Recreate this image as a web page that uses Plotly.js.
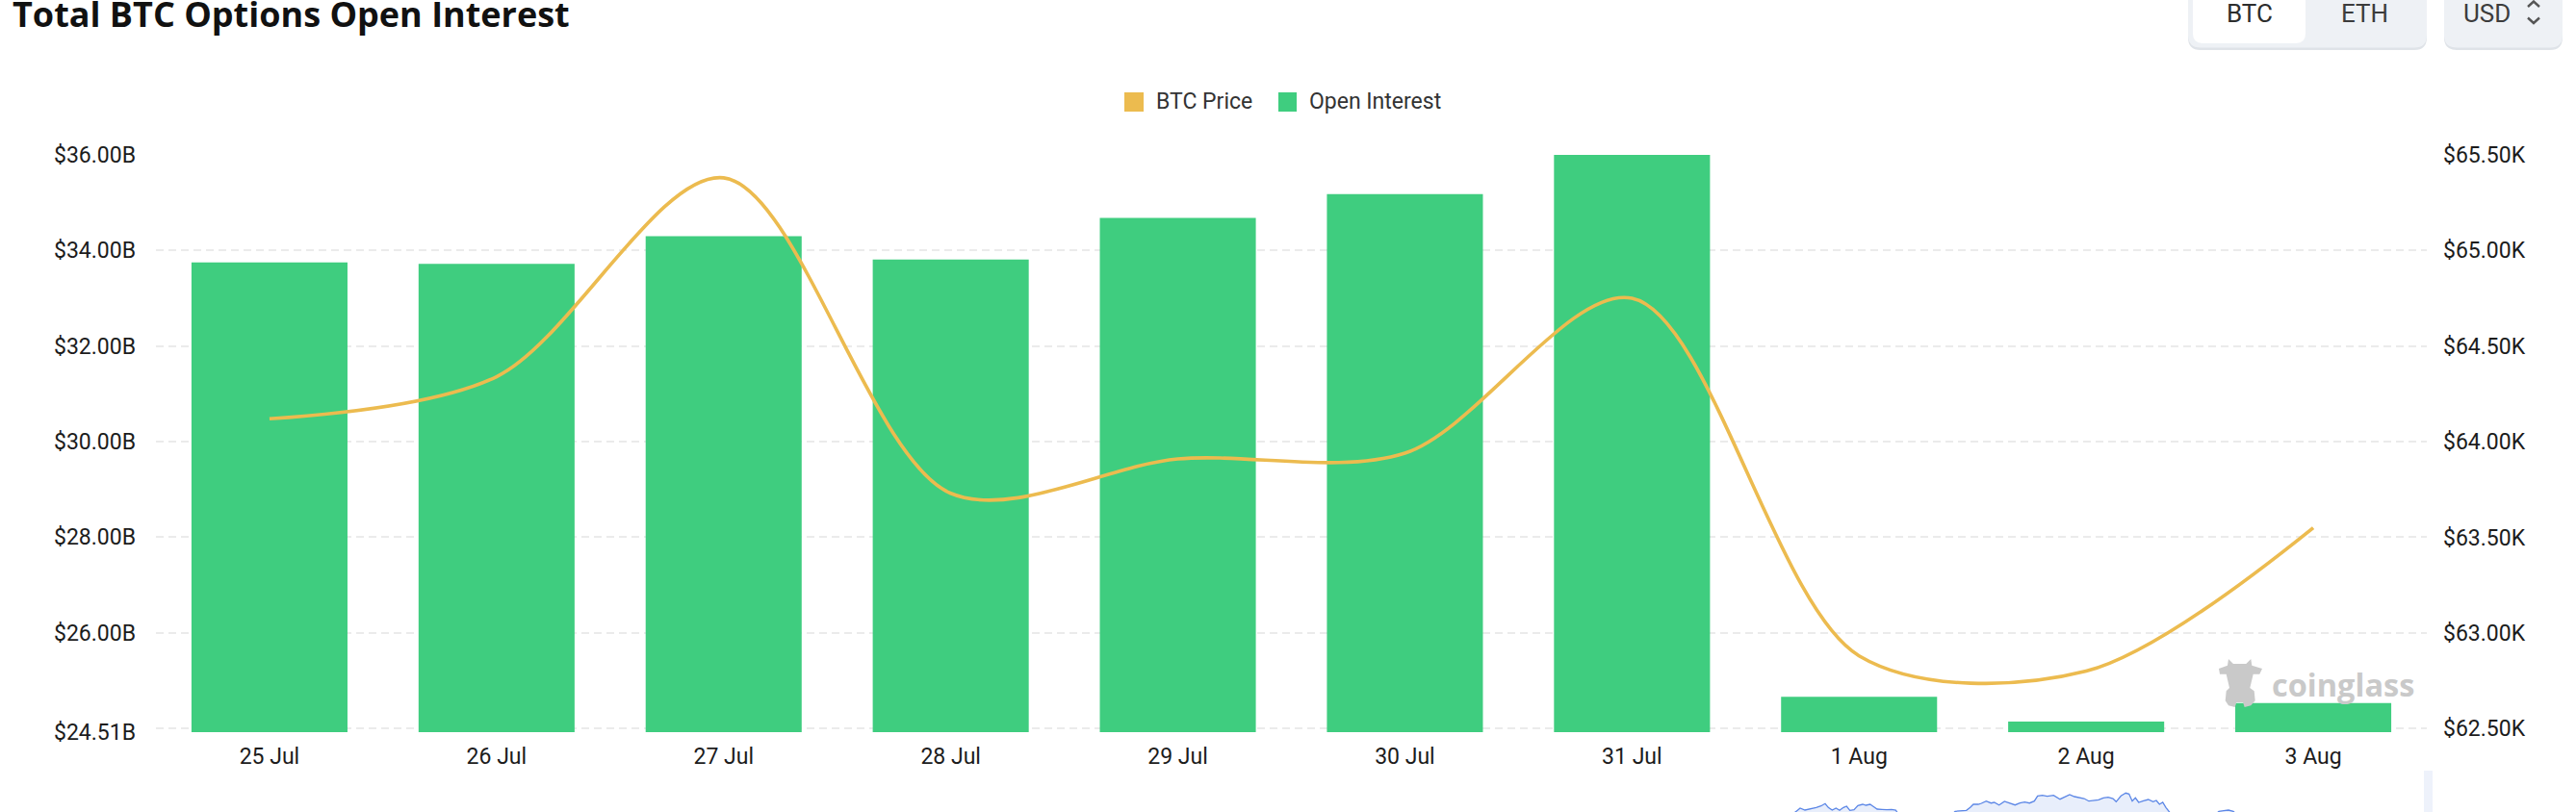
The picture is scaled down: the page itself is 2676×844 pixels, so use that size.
<!DOCTYPE html>
<html><head><meta charset="utf-8">
<script src="https://cdn.plot.ly/plotly-3.0.1.min.js"></script>
<style>html,body{margin:0;padding:0;background:#fff;overflow:hidden}#chart{width:2676px;height:844px}</style>
</head><body><div id="chart"></div>
<script>
// ---------------- data ----------------
const categories = ['25 Jul','26 Jul','27 Jul','28 Jul','29 Jul','30 Jul','31 Jul','1 Aug','2 Aug','3 Aug'];
const openInterest = [33.75, 33.72, 34.30, 33.81, 34.68, 35.18, 36.00, 24.66, 24.14, 24.53]; // $B
const btcPrice = [64.12, 64.34, 65.38, 63.73, 63.91, 63.94, 64.75, 62.88, 62.80, 63.55];   // $K
const leftTickVals = [23.92, 26, 28, 30, 32, 34, 36];
const leftTickText = ['$24.51B','$26.00B','$28.00B','$30.00B','$32.00B','$34.00B','$36.00B'];
const rightTickVals = [62.5, 63, 63.5, 64, 64.5, 65, 65.5];
const rightTickText = ['$62.50K','$63.00K','$63.50K','$64.00K','$64.50K','$65.00K','$65.50K'];
const seriesNames = ['BTC Price', 'Open Interest'];
const chartTitle = 'Total BTC Options Open Interest';
const currencyTabs = ['BTC', 'ETH'];
const unitLabel = 'USD';
const watermarkText = 'coinglass';
// data-zoom preview (only the top of it is visible at the bottom edge)
const previewPos = [162,1860,1866.7,1870,1875,1880,1886.7,1891.7,1896,1899.3,1903.3,1907.3,1911,1915,1918.3,1921.7,1926,1930,1935,1938.3,1942.7,1946.7,1950,1955,1960,1965,1969.3,1973.3,
  2026.7,2031,2036.7,2042.7,2046.7,2050,2055,2058.3,2063.3,2068.3,2071.7,2076.7,2082.3,2087.3,2093.3,2098.3,2103.3,2108.3,2113.3,2116.7,2121.7,2126.7,2133.3,2140,2145,2150,2155,2160,2165,2170,2175,2180,2185,2190,2195,2198.3,2203.3,2208.3,2211.7,2215,2218.3,2221.7,2226.7,2231.7,2236.7,2240,2243.3,2246.7,2250,2253.3,2256.7,
  2300,2305,2310,2315,2320,2325,2521];
const previewVal = [-4,-4,1.3,4,2,3,4.7,6.3,8.7,4.7,2,4,1.7,4.7,6,1.7,2.3,6.7,8,7,8,5.3,3,2.7,2.3,2.7,2,-4,
  -4,0.7,1.3,1.7,4.7,8,8,9,11.3,9.3,10,7.3,11,9.3,7.3,9.3,10.3,9.3,11.3,16.7,17.3,16.3,17.3,13.3,15.3,18,16,15.3,14,11.3,12.3,12.7,14.7,15.3,14,10.7,16.7,19.7,18.7,11.3,14.7,10,11.7,13,10.7,12,8,10,4.7,1.3,-4,
  -4,0.7,1.3,2,0.7,-4,-4];

// ---------------- geometry helpers (decorations only) ----------------
const W = 2676, H = 844, ML = 162, MR = 155, MT = 161, MB = 0;
const PW = W - ML - MR, PH = H - MT - MB;
const PLOT_BOTTOM = 761;
const px2x = p => (p - ML) / PW;
const px2y = p => (H - MB - p) / PH;
function polyPath(pts){
  return pts.map((p,i)=>(i?'L':'M')+px2x(p[0]).toFixed(5)+','+px2y(p[1]).toFixed(5)).join(' ')+' Z';
}
function roundRectPath(x0,y0,x1,y1,r){
  const X=px2x, Y=px2y, f=v=>v.toFixed(5);
  return 'M'+f(X(x0+r))+','+f(Y(y0))+' L'+f(X(x1-r))+','+f(Y(y0))+
    ' Q'+f(X(x1))+','+f(Y(y0))+' '+f(X(x1))+','+f(Y(y0+r))+
    ' L'+f(X(x1))+','+f(Y(y1-r))+
    ' Q'+f(X(x1))+','+f(Y(y1))+' '+f(X(x1-r))+','+f(Y(y1))+
    ' L'+f(X(x0+r))+','+f(Y(y1))+
    ' Q'+f(X(x0))+','+f(Y(y1))+' '+f(X(x0))+','+f(Y(y1-r))+
    ' L'+f(X(x0))+','+f(Y(y0+r))+
    ' Q'+f(X(x0))+','+f(Y(y0))+' '+f(X(x0+r))+','+f(Y(y0))+' Z';
}
const ORANGE = '#ecbb4f', GREEN = '#3fcd7f';
const tickFont = {family:'Roboto, sans-serif', size:23, color:'#1c1c1c'};
const gridStyle = {showgrid:true, gridcolor:'#ebebeb', gridwidth:2, griddash:'8px,5px', zeroline:false, showline:false, ticks:''};

const mascot = [[2315,685],[2320,690],[2333.3,690],[2338.3,685],[2339.3,691.7],[2350,695],[2347.3,700.7],[2340.7,700.7],[2337.3,715],[2341.7,718.3],[2342.7,728.3],[2338.3,733.3],[2331.7,735],[2330,730],[2323.3,730],[2321.7,735],[2315,733.3],[2311.7,728.3],[2312.7,718.3],[2316,715],[2312.7,700.7],[2306,700.7],[2305,695],[2314,691.7]];

// ---------------- traces ----------------
const traces = [
  {type:'bar', name:seriesNames[1], x:categories, y:openInterest, xaxis:'x', yaxis:'y',
   marker:{color:GREEN, line:{width:0}}, showlegend:false, hoverinfo:'skip'},
  {type:'scatter', mode:'lines', name:seriesNames[0], x:categories, y:btcPrice, xaxis:'x', yaxis:'y2',
   line:{color:ORANGE, width:3.6, shape:'spline', smoothing:0.9}, showlegend:false, hoverinfo:'skip'},
  {type:'scatter', mode:'lines', x:previewPos, y:previewVal, xaxis:'x2', yaxis:'y3',
   fill:'tozeroy', fillcolor:'rgba(91,134,230,0.14)', line:{color:'#5b86e6', width:1.3},
   showlegend:false, hoverinfo:'skip'}
];

const shapes = [
  // legend swatches
  {type:'rect', xref:'paper', yref:'paper', x0:px2x(1168), x1:px2x(1188), y0:px2y(96), y1:px2y(116), fillcolor:ORANGE, line:{width:0}},
  {type:'rect', xref:'paper', yref:'paper', x0:px2x(1328), x1:px2x(1347), y0:px2y(96), y1:px2y(116), fillcolor:GREEN, line:{width:0}},
  // BTC/ETH toggle
  {type:'path', xref:'paper', yref:'paper', path:roundRectPath(2273,-20,2521,52,13), fillcolor:'#dfe3e8', line:{width:0}},
  {type:'path', xref:'paper', yref:'paper', path:roundRectPath(2273,-20,2521,49.5,13), fillcolor:'#eef1f5', line:{width:0}},
  {type:'path', xref:'paper', yref:'paper', path:roundRectPath(2278,-20,2395,45,10), fillcolor:'#ffffff', line:{width:0}},
  // USD selector
  {type:'path', xref:'paper', yref:'paper', path:roundRectPath(2539,-20,2662,52,13), fillcolor:'#dfe3e8', line:{width:0}},
  {type:'path', xref:'paper', yref:'paper', path:roundRectPath(2539,-20,2662,49.5,13), fillcolor:'#eef1f5', line:{width:0}},
  {type:'path', xref:'paper', yref:'paper', path:'M'+px2x(2626)+','+px2y(7)+' L'+px2x(2632)+','+px2y(1.5)+' L'+px2x(2638)+','+px2y(7), line:{color:'#555', width:2.4}},
  {type:'path', xref:'paper', yref:'paper', path:'M'+px2x(2626)+','+px2y(18.5)+' L'+px2x(2632)+','+px2y(24)+' L'+px2x(2638)+','+px2y(18.5), line:{color:'#555', width:2.4}},
  // watermark mascot
  {type:'path', xref:'paper', yref:'paper', path:polyPath(mascot), fillcolor:'#c9c9c9', line:{width:0}, layer:'above'},
  // data-zoom right edge
  {type:'rect', xref:'paper', yref:'paper', x0:px2x(2518), x1:px2x(2527), y0:px2y(844), y1:px2y(801), fillcolor:'#eef2fb', line:{width:0}}
];

const annotations = [
  {text:seriesNames[0], xref:'paper', yref:'paper', x:px2x(1199), y:px2y(106), xanchor:'left', yanchor:'middle', showarrow:false,
   font:{family:'Roboto, sans-serif', size:23, color:'#333'}},
  {text:seriesNames[1], xref:'paper', yref:'paper', x:px2x(1358), y:px2y(106), xanchor:'left', yanchor:'middle', showarrow:false,
   font:{family:'Roboto, sans-serif', size:23, color:'#333'}},
  {text:currencyTabs[0], xref:'paper', yref:'paper', x:px2x(2337), y:px2y(14), xanchor:'center', yanchor:'middle', showarrow:false,
   font:{family:'Roboto, sans-serif', size:26, color:'#2d2d2d'}},
  {text:currencyTabs[1], xref:'paper', yref:'paper', x:px2x(2456), y:px2y(14), xanchor:'center', yanchor:'middle', showarrow:false,
   font:{family:'Roboto, sans-serif', size:26, color:'#3c3c3c'}},
  {text:unitLabel, xref:'paper', yref:'paper', x:px2x(2583), y:px2y(14), xanchor:'center', yanchor:'middle', showarrow:false,
   font:{family:'Roboto, sans-serif', size:26, color:'#3c3c3c'}},
  {text:watermarkText, xref:'paper', yref:'paper', x:px2x(2358), y:px2y(711), xanchor:'left', yanchor:'middle', showarrow:false,
   font:{family:'Open Sans, sans-serif', size:32.5, weight:700, color:'#c9c9c9'}}
];

const layout = {
  width:W, height:H,
  margin:{l:ML, r:MR, t:MT, b:MB, pad:0},
  paper_bgcolor:'#ffffff', plot_bgcolor:'rgba(0,0,0,0)',
  showlegend:false,
  bargap:0.313,
  title:{text:chartTitle, xref:'container', yref:'container', x:13/W, xanchor:'left', y:1-28/H, yanchor:'bottom',
         font:{family:'Open Sans, sans-serif', size:36, weight:700, color:'#111111'}},
  xaxis:{type:'category', categoryorder:'array', categoryarray:categories, range:[-0.5, 9.5], anchor:'y',
         showgrid:false, zeroline:false, showline:false, ticks:'', tickfont:tickFont, ticklabelstandoff:9, fixedrange:true},
  yaxis:Object.assign({}, gridStyle, {domain:[px2y(PLOT_BOTTOM), 1], range:[23.92, 36], tickmode:'array', tickvals:leftTickVals,
         ticktext:leftTickText, tickfont:tickFont, ticklabelstandoff:20, anchor:'x', fixedrange:true}),
  yaxis2:Object.assign({}, gridStyle, {overlaying:'y', side:'right', range:[62.481, 65.5], tickmode:'array', tickvals:rightTickVals,
         ticktext:rightTickText, tickfont:tickFont, ticklabelstandoff:16, anchor:'x', fixedrange:true}),
  xaxis2:{domain:[0,1], range:[162, 2521], anchor:'y3', visible:false, fixedrange:true},
  yaxis3:{domain:[0, px2y(801)], range:[0, 43], anchor:'x2', visible:false, fixedrange:true},
  shapes:shapes,
  annotations:annotations
};

Plotly.newPlot('chart', traces, layout, {displayModeBar:false, staticPlot:true});
</script></body></html>
